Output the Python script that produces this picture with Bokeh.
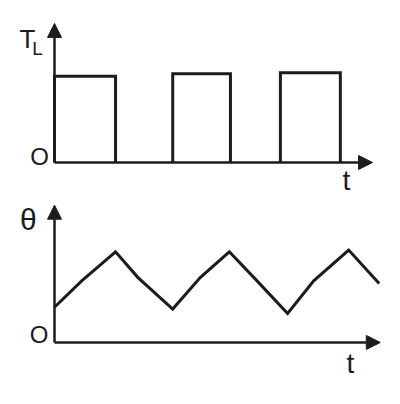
from bokeh.plotting import figure
from bokeh.layouts import column
from bokeh.models import Arrow, NormalHead, Label, Range1d
from bokeh.embed import file_html
from bokeh.resources import INLINE

# ---- data ----
pulse_start = [0.0, 2.13, 4.07]
pulse_end = [1.1, 3.17, 5.15]
pulse_level = [0.98, 1.01, 1.02]

theta_t = [0.0, 0.49, 1.1, 1.5, 2.13, 2.63, 3.15, 3.59, 4.2, 4.67, 5.3, 5.85]
theta_v = [0.40, 0.70, 1.03, 0.74, 0.38, 0.74, 1.03, 0.74, 0.33, 0.70, 1.05, 0.67]

top_axis_tip = (5.73, 1.58)
bot_axis_tip = (5.87, 1.56)

INK = "#1c1c1c"
FONT = "Liberation Sans"


def base_fig(h, yr):
    p = figure(width=400, height=h, output_backend="svg", toolbar_location=None,
               x_range=Range1d(-0.973, 6.234), y_range=Range1d(*yr),
               x_axis_location=None, y_axis_location=None,
               min_border=0, min_border_left=0, min_border_right=0,
               min_border_top=0, min_border_bottom=0)
    p.outline_line_color = None
    p.xgrid.visible = False
    p.ygrid.visible = False
    p.background_fill_color = "white"
    p.border_fill_color = "white"
    return p


def axes(p, tip):
    for xe, ye in [(tip[0], 0), (0, tip[1])]:
        p.add_layout(Arrow(end=NormalHead(size=14, fill_color=INK, line_color=INK, line_width=1),
                           x_start=0, y_start=0, x_end=xe, y_end=ye,
                           line_color=INK, line_width=2.5))


def lab(p, txt, x, y, size, align="center"):
    p.add_layout(Label(x=x, y=y, text=txt, text_font=FONT, text_font_size=f"{size}px",
                       text_align=align, text_baseline="middle", text_color=INK))


# ---- top panel: T_L ----
p1 = base_fig(198, (-0.409, 1.841))
for s, e, h in zip(pulse_start, pulse_end, pulse_level):
    p1.line([s, s, e, e], [0, h, h, 0], line_color=INK, line_width=3, line_join="miter")
axes(p1, top_axis_tip)
lab(p1, "T", -0.63, 1.40, 26, "left")
lab(p1, "L", -0.40, 1.29, 19, "left")
lab(p1, "O", -0.27, 0.07, 24)
lab(p1, "t", 5.26, -0.20, 28)

# ---- bottom panel: theta ----
p2 = base_fig(206, (-0.705, 1.636))
p2.line(theta_t, theta_v, line_color=INK, line_width=3, line_join="miter")
axes(p2, bot_axis_tip)
lab(p2, "θ", -0.47, 1.40, 30)
lab(p2, "O", -0.28, 0.09, 24)
lab(p2, "t", 5.33, -0.24, 28)

layout = column(p1, p2, spacing=0)
open("out.html", "w").write(file_html(layout, INLINE))
